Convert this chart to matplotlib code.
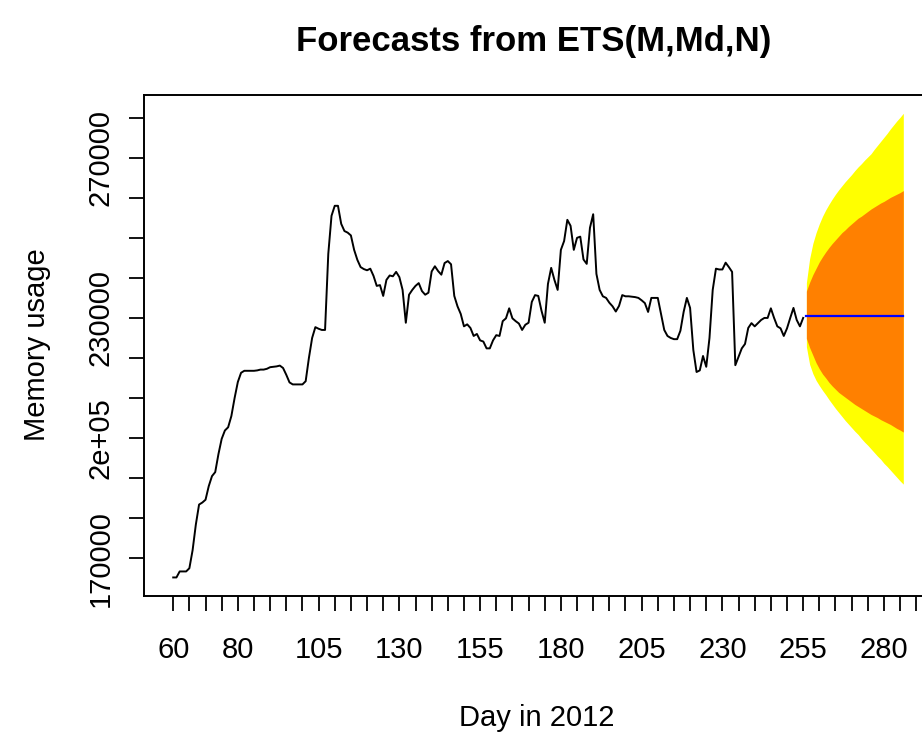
import numpy as np
import matplotlib
matplotlib.use('Agg')
import matplotlib.pyplot as plt

plt.rcParams['font.family'] = ['Liberation Sans', 'DejaVu Sans']

# observed memory usage, one value per day (day 60 .. 255)
days = np.arange(60, 256)
memory = [
    165200, 165200, 166700, 166700, 166700, 167500, 172000, 178400, 183400, 183900,
    184600, 188000, 190500, 191500, 196000, 199800, 201900, 202700, 205500, 210000,
    214000, 216300, 216800, 216800, 216800, 216800, 216900, 217100, 217100, 217300,
    217700, 217800, 217900, 218100, 217500, 215800, 213900, 213400, 213400, 213400,
    213400, 214200, 220000, 225000, 227700, 227300, 227000, 227000, 246000, 255500,
    258000, 258000, 253500, 251700, 251300, 250600, 247000, 244500, 242700, 242200,
    241900, 242300, 240500, 238000, 238200, 235500, 239500, 240600, 240400, 241500,
    240200, 237000, 228800, 235800, 237000, 238000, 238700, 236700, 235800, 236300,
    241600, 242900, 241700, 240800, 243700, 244200, 243400, 235500, 232900, 231000,
    227900, 228400, 227500, 225500, 226000, 224400, 224100, 222400, 222400, 224400,
    225700, 225500, 229200, 229900, 232400, 229900, 229200, 228600, 227000, 228300,
    228800, 234000, 235700, 235500, 231800, 228800, 238500, 242500, 239500, 237000,
    247000, 249200, 254500, 253000, 247000, 250000, 250300, 244600, 243500, 252500,
    255900, 241000, 237000, 235400, 235000, 233800, 232900, 231600, 233000, 235700,
    235400, 235400, 235300, 235200, 235000, 234400, 233700, 231500, 235000, 235000,
    235000, 231000, 227000, 225500, 225000, 224700, 224700, 226800, 231500, 235000,
    232500, 222000, 216500, 216900, 220500, 217800, 225000, 237000, 242300, 242100,
    242100, 243800, 242700, 241500, 218200, 220300, 222400, 223500, 227500, 228700,
    227900, 228700, 229500, 230000, 230000, 232400, 230000, 227900, 227400, 225500,
    227400, 230000, 232500, 229500, 227900, 230000,
]

# 31-day forecast with 80% and 95% intervals
fc_days = np.arange(256, 287)
fc_mean = [230500] * 31
hi80 = [236700, 238900, 240800, 242400, 244000, 245300, 246500, 247600, 248600, 249500,
        250400, 251300, 252000, 252800, 253500, 254200, 254900, 255400, 256000, 256600,
        257200, 257700, 258200, 258700, 259100, 259600, 260100, 260500, 260900, 261300, 261800]
lo80 = [224900, 222600, 220700, 218800, 217300, 216000, 215000, 213900, 213000, 212200,
        211400, 210800, 210200, 209600, 209000, 208400, 207900, 207400, 206900, 206400,
        205900, 205500, 205100, 204600, 204200, 203800, 203400, 202900, 202400, 202000, 201500]
hi95 = [238800, 244800, 248600, 251300, 253500, 255400, 257000, 258400, 259700, 260900,
        262000, 263000, 264000, 264900, 265800, 266800, 267700, 268500, 269400, 270200,
        271000, 272100, 273100, 274100, 275100, 276100, 277200, 278200, 279200, 280100, 281100]
lo95 = [222800, 218400, 216100, 214400, 213100, 211900, 210800, 209600, 208500, 207400,
        206400, 205400, 204400, 203500, 202600, 201700, 200900, 199900, 199000, 198200,
        197300, 196400, 195500, 194700, 193700, 192900, 192000, 191100, 190200, 189300, 188500]

x_tick_labels = {60: '60', 80: '80', 105: '105', 130: '130', 155: '155',
                 180: '180', 205: '205', 230: '230', 255: '255', 280: '280'}
y_tick_labels = {170000: '170000', 200000: '2e+05', 230000: '230000', 270000: '270000'}

fig = plt.figure(figsize=(9.22, 7.36), dpi=100)
ax = fig.add_axes([0.1562, 0.1902, 0.8552, 0.6811])

ax.fill_between(fc_days, lo95, hi95, color='#FFFF00', lw=0)
ax.fill_between(fc_days, lo80, hi80, color='#FF8000', lw=0)
ax.plot(fc_days, fc_mean, color='#0000FF', lw=1.6)
ax.plot(days, memory, color='black', lw=1.4)

# R-style 4% padding on both axes
xmin, xmax = days[0], fc_days[-1]
ymin = min(min(memory), min(lo95))
ymax = max(max(memory), max(hi95))
xpad = 0.04 * (xmax - xmin)
ypad = 0.04 * (ymax - ymin)
ax.set_xlim(xmin - xpad, xmax + xpad)
ax.set_ylim(ymin - ypad, ymax + ypad)

xt = np.arange(60, 291, 5)
ax.set_xticks(xt)
ax.set_xticklabels([x_tick_labels.get(int(v), '') for v in xt])
yt = np.arange(170000, 280001, 10000)
ax.set_yticks(yt)
ax.set_yticklabels([y_tick_labels.get(int(v), '') for v in yt])

ax.tick_params(axis='both', direction='out', length=11, width=1.3, labelsize=21)
ax.tick_params(axis='x', pad=18)
ax.tick_params(axis='y', pad=10, labelrotation=90)
for lab in ax.get_yticklabels():
    lab.set_va('center')

for s in ax.spines.values():
    s.set_linewidth(1.4)

fig.text(534 / 922, 1 - 42 / 736, 'Forecasts from ETS(M,Md,N)', ha='center', va='center',
         fontsize=25, fontweight='bold')
fig.text(537 / 922, 1 - 718 / 736, 'Day in 2012', ha='center', va='center', fontsize=21)
fig.text(37 / 922, 1 - 345 / 736, 'Memory usage', ha='center', va='center',
         rotation=90, fontsize=21)

fig.savefig('out.png', dpi=100)
